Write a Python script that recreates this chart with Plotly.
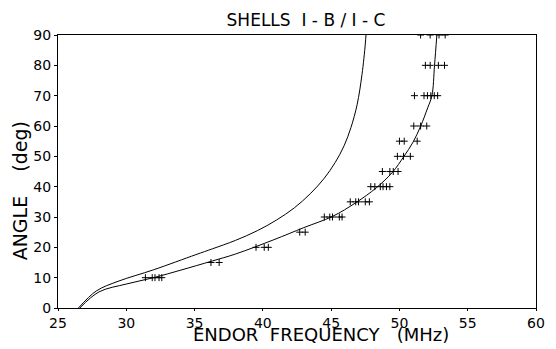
import plotly.graph_objects as go

# Data
exp_angle = [10]*5 + [15]*2 + [20]*3 + [25]*2 + [30]*5 + [35]*5 + [40]*6 + [45]*4 + [50]*3 + [55]*3 + [60]*3 + [70]*6 + [80]*4 + [90]*4
exp_freq = [31.4, 31.9, 32.1, 32.4, 32.6,
            36.2, 36.8,
            39.5, 40.1, 40.4,
            42.7, 43.1,
            44.5, 44.9, 45.1, 45.6, 45.8,
            46.4, 46.8, 47.0, 47.5, 47.8,
            47.9, 48.2, 48.6, 48.8, 49.05, 49.3,
            48.75, 49.3, 49.55, 49.9,
            49.85, 50.3, 50.8,
            50.0, 50.35, 51.3,
            51.05, 51.55, 52.0,
            51.1, 51.8, 52.05, 52.3, 52.55, 52.8,
            51.9, 52.25, 52.85, 53.3,
            51.55, 52.25, 52.9, 53.35]

lower_freq = [26.6, 28.0, 30.0, 32.0, 34.0, 36.3, 38.0, 40.8, 43.0, 45.1, 46.8, 48.3, 49.5, 50.3, 51.0, 51.55, 52.07, 52.38, 52.57, 52.74]
lower_angle = [0, 5.3, 7.9, 10.0, 12.5, 15.5, 17.8, 22.5, 26.5, 30.2, 34.7, 39.6, 44.8, 49.8, 54.7, 59.9, 66.0, 70.0, 80.0, 90.0]

upper_freq = [26.5, 27.8, 29.4, 32.0, 35.1, 36.3, 38.0, 39.6, 41.0, 42.3, 43.5, 44.5, 45.3, 45.95, 46.45, 46.9, 47.26, 47.5, 47.55]
upper_angle = [0, 5.6, 8.8, 12.6, 17.6, 19.5, 22.3, 25.5, 29.0, 33.0, 37.8, 42.8, 48.0, 53.5, 59.5, 67.0, 77.0, 87.0, 90.0]

x_ticks = [25, 30, 35, 40, 45, 50, 55, 60]
y_ticks = [0, 10, 20, 30, 40, 50, 60, 70, 80, 90]

font = "DejaVu Sans"

fig = go.Figure()
fig.add_trace(go.Scatter(x=upper_freq, y=upper_angle, mode="lines",
                         line=dict(color="black", width=1, shape="spline", smoothing=1.0),
                         hoverinfo="skip"))
fig.add_trace(go.Scatter(x=lower_freq, y=lower_angle, mode="lines",
                         line=dict(color="black", width=1, shape="spline", smoothing=1.0),
                         hoverinfo="skip"))
fig.add_trace(go.Scatter(x=exp_freq, y=exp_angle, mode="markers", hoverinfo="skip",
                         marker=dict(symbol="cross-thin", size=5, line=dict(color="black", width=1))))

W, H = 556, 349
fig.update_layout(
    width=W, height=H,
    margin=dict(l=58, r=11, t=35, b=41),
    paper_bgcolor="white", plot_bgcolor="white",
    showlegend=False,
    hovermode=False,
    title=dict(text="SHELLS  I - B / I - C", x=306/W, xanchor="center",
               y=1 - 20/H, yanchor="middle",
               font=dict(family=font, size=17, color="black")),
    font=dict(family=font, color="black"),
    annotations=[
        dict(text="ENDOR  FREQUENCY   (MHz)", xref="paper", yref="paper",
             x=0.55, y=-0.097, xanchor="center", yanchor="middle", showarrow=False,
             font=dict(size=18, family=font, color="black")),
        dict(text="ANGLE    (deg)", xref="paper", yref="paper", textangle=-90,
             x=-0.08, y=0.43, xanchor="center", yanchor="middle", showarrow=False,
             font=dict(size=19, family=font, color="black")),
    ],
)
fig.update_xaxes(range=[25, 60], tickvals=x_ticks, showgrid=False, zeroline=False,
                 showline=True, linecolor="black", linewidth=1, mirror=True,
                 ticks="outside", ticklen=2, tickcolor="black",
                 tickfont=dict(size=14, family=font))
fig.update_yaxes(range=[0, 90], tickvals=y_ticks, showgrid=False, zeroline=False,
                 showline=True, linecolor="black", linewidth=1, mirror=True,
                 ticks="outside", ticklen=3, tickcolor="black",
                 tickfont=dict(size=14, family=font))

fig.write_html("out.html",
               config={"displayModeBar": False, "staticPlot": True},
               post_script="document.body.style.margin='0';document.body.style.overflow='hidden';document.documentElement.style.overflow='hidden';")
